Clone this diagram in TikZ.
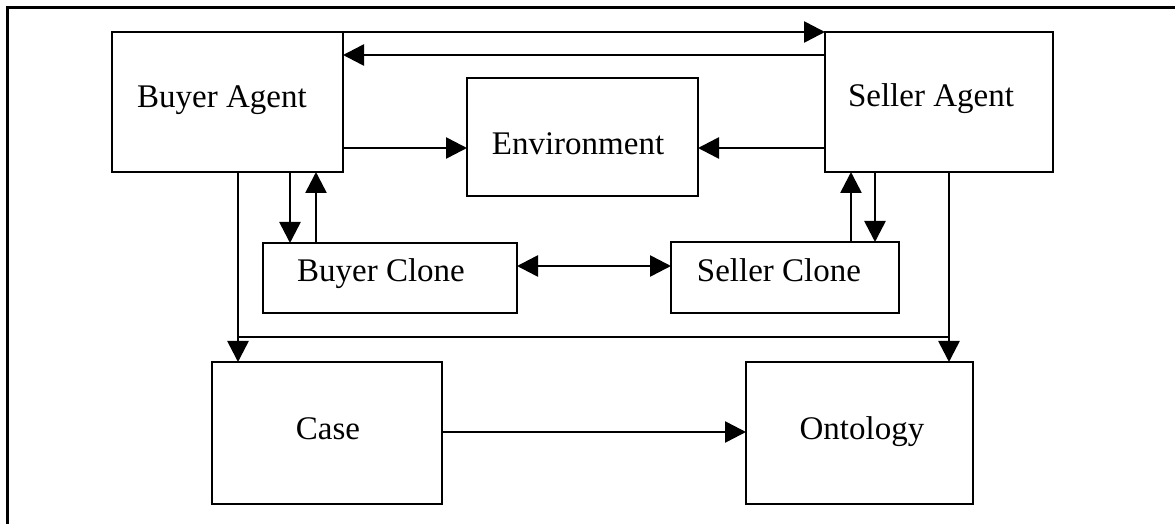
\documentclass[tikz,border=0pt]{standalone}
\usepackage{fontspec}
\setmainfont{Liberation Serif}
\usetikzlibrary{arrows.meta}
% label with its baseline set #2 below the box centre and shifted #1 sideways
\newcommand\boxlabel[3]{\raisebox{-#2}[0pt][0pt]{\makebox[0pt]{\hspace{#1}#3\hspace{-#1}}}}
\begin{document}
\begin{tikzpicture}[x=0.5pt,y=-0.5pt,
  line width=1.3pt,
  box/.style={draw, line width=1.3pt, inner sep=0pt, outer sep=0pt,
    font=\fontsize{16.5}{20}\selectfont},
  arr/.style={-{Triangle[length=10.5pt,width=10.5pt]}},
  dbl/.style={{Triangle[length=10.5pt,width=10.5pt]}-{Triangle[length=10.5pt,width=10.5pt]}}]
\useasboundingbox (0,0) rectangle (1175,524);

% outer frame (top and left edges)
\coordinate (fr1) at (1175,8);
\coordinate (fr2) at (7,8);
\coordinate (fr3) at (7,524);
\draw[line width=1.5pt] (fr1) -- (fr2) -- (fr3);

% boxes
\node[box, minimum width=115.5pt, minimum height=70pt] (BA) at (227.5,102) {\boxlabel{-2.75pt}{3pt}{Buyer Agent}};
\node[box, minimum width=114pt, minimum height=70pt] (SA) at (939,102) {\boxlabel{-4pt}{2.5pt}{Seller Agent}};
\node[box, minimum width=115.5pt, minimum height=59pt] (Env) at (582.5,137) {\boxlabel{-2.25pt}{9pt}{Environment}};
\node[box, minimum width=127pt, minimum height=35pt] (BC) at (390,278) {\boxlabel{-4.5pt}{2pt}{Buyer Clone}};
\node[box, minimum width=114pt, minimum height=35.5pt] (SC) at (785,277.5) {\boxlabel{-3pt}{2.25pt}{Seller Clone}};
\node[box, minimum width=115pt, minimum height=71pt] (Case) at (327,433) {\boxlabel{0.5pt}{3pt}{Case}};
\node[box, minimum width=113.5pt, minimum height=71pt] (Ont) at (859.5,433) {\boxlabel{1.25pt}{3pt}{Ontology}};

% connector levels
\coordinate (yback) at (0,55);
\coordinate (yenv) at (0,148);
\coordinate (ydbl) at (0,266);
\coordinate (ybus) at (0,337);
\coordinate (ycase) at (0,432);
\coordinate (xbd) at (290,0);
\coordinate (xbu) at (316,0);
\coordinate (xsu) at (851,0);
\coordinate (xsd) at (875,0);
\coordinate (xbv) at (238,0);
\coordinate (xsv) at (949,0);

% agent to agent
\draw[arr] (BA.north east) -- (SA.north west);
\draw[arr] (SA.west |- yback) -- (BA.east |- yback);
% agents to environment
\draw[arr] (BA.east |- yenv) -- (Env.west |- yenv);
\draw[arr] (SA.west |- yenv) -- (Env.east |- yenv);
% agents and clones
\draw[arr] (xbd |- BA.south) -- (xbd |- BC.north);
\draw[arr] (xbu |- BC.north) -- (xbu |- BA.south);
\draw[arr] (xsu |- SC.north) -- (xsu |- SA.south);
\draw[arr] (xsd |- SA.south) -- (xsd |- SC.north);
\draw[dbl] (BC.east |- ydbl) -- (SC.west |- ydbl);
% agents to case and ontology
\draw[arr] (xbv |- BA.south) -- (xbv |- Case.north);
\draw[arr] (xsv |- SA.south) -- (xsv |- Ont.north);
\draw (xbv |- ybus) -- (xsv |- ybus);
\draw[arr] (Case.east |- ycase) -- (Ont.west |- ycase);
\end{tikzpicture}
\end{document}
